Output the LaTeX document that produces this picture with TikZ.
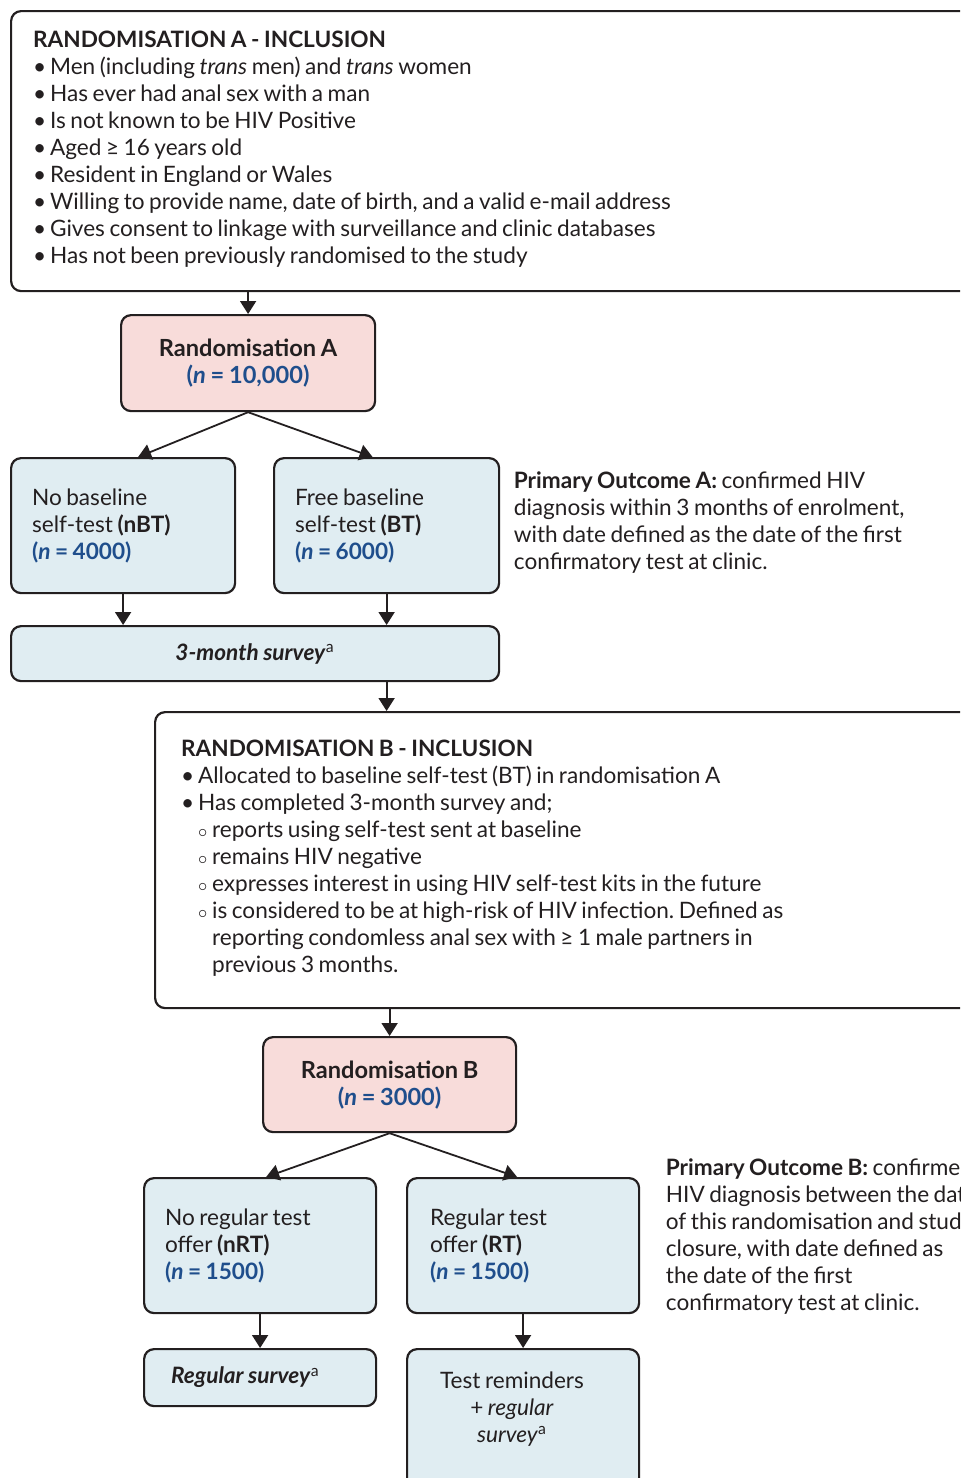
\documentclass[tikz,border=0pt]{standalone}
\usepackage{fontspec}
\setmainfont{Lato}
\usetikzlibrary{arrows.meta,positioning}
\definecolor{randpink}{HTML}{F8DCDA}
\definecolor{armblue}{HTML}{E0EDF2}
\definecolor{numblue}{HTML}{1F4E8C}
\definecolor{inkgrey}{HTML}{231F20}
\newcommand{\tightsp}{\spaceskip=0.2em plus 0.1em minus 0.05em\relax}
\tikzset{
  box/.style={draw=inkgrey,line width=1.1pt,rounded corners=5pt,anchor=north west,inner ysep=0pt},
  incl/.style={box,align=flush left,inner xsep=11pt},
  randbox/.style={box,fill=randpink,align=center,font=\fontsize{11.8}{13.5}\selectfont\tightsp\bfseries},
  armbox/.style={box,fill=armblue,align=flush left,inner xsep=10.5pt},
  note/.style={anchor=west,align=left,inner sep=0pt}
}
\newcommand{\nval}[1]{\textcolor{numblue}{\textbf{(\textit{n} = #1)}}}
\newcommand{\bul}{\makebox[8.5pt][l]{•}}
\newcommand{\subbul}{\hspace*{8.5pt}\makebox[7pt][l]{\raisebox{0.4pt}{\small$\circ$}}}
\newcommand{\surv}[1]{\textbf{\textit{#1}}\textsuperscript{a}}
\newcommand{\lift}{\rule[-3.5pt]{0pt}{1pt}}
\frenchspacing

\begin{document}
\begin{tikzpicture}[x=0.5pt,y=-0.5pt,>={Triangle[length=6.5pt,width=8pt]},line width=0.9pt,color=inkgrey,
  every node/.style={font=\fontsize{11.3}{13.5}\selectfont\tightsp,text=inkgrey}]
  \useasboundingbox (0,0) rectangle (960,1478);
  \clip (0,0) rectangle (960,1478);

  % randomisation A
  \node[incl,text width=460pt,minimum height=140pt] (inclA) at (10,10) {%
    \textbf{RANDOMISATION A - INCLUSION}\\
    \bul Men (including \textit{trans} men) and \textit{trans} women\\
    \bul Has ever had anal sex with a man\\
    \bul Is not known to be HIV Positive\\
    \bul Aged ≥ 16 years old\\
    \bul Resident in England or Wales\\
    \bul Willing to provide name, date of birth, and a valid e-mail address\\
    \bul Gives consent to linkage with surveillance and clinic databases\\
    \bul Has not been previously randomised to the study\lift};
  \node[randbox,minimum width=127pt,minimum height=48pt] (randA) at (120,314)
    {Randomisation A\\ \nval{10,000}};
  \node[armbox,text width=91pt,minimum height=67.5pt] (nbt) at (10,457)
    {No baseline\\ self-test \textbf{(nBT)}\\ \nval{4000}};
  \node[armbox,text width=91.5pt,minimum height=67.5pt] (bt) at (273,457)
    {Free baseline\\ self-test \textbf{(BT)}\\ \nval{6000}};
  \node[note] (outA) at (513,523)
    {\textbf{Primary Outcome A:} confirmed HIV\\ diagnosis within 3 months of enrolment,\\
     with date defined as the date of the first\\ confirmatory test at clinic.};
  \node[box,fill=armblue,minimum width=244pt,minimum height=27.5pt] (surv3) at (10,625)
    {\surv{3-month survey}};

  % randomisation B
  \node[incl,inner xsep=13pt,text width=384pt,minimum height=148pt] (inclB) at (154,711) {%
    \textbf{RANDOMISATION B - INCLUSION}\\
    \bul Allocated to baseline self-test (BT) in randomisation A\\
    \bul Has completed 3-month survey and;\\
    \subbul reports using self-test sent at baseline\\
    \subbul remains HIV negative\\
    \subbul expresses interest in using HIV self-test kits in the future\\
    \subbul is considered to be at high-risk of HIV infection. Defined as\\
    \hspace*{15.5pt}reporting condomless anal sex with ≥ 1 male partners in\\
    \hspace*{15.5pt}previous 3 months.\lift};
  \node[randbox,minimum width=126.5pt,minimum height=47.5pt] (randB) at (262,1036)
    {Randomisation B\\ \nval{3000}};
  \node[armbox,text width=95pt,minimum height=67.5pt] (nrt) at (143,1177)
    {No regular test\\ offer \textbf{(nRT)}\\ \nval{1500}};
  \node[armbox,inner xsep=11.5pt,text width=93pt,minimum height=67.5pt] (rt) at (406,1177)
    {Regular test\\ offer \textbf{(RT)}\\ \nval{1500}};
  \node[note] (outB) at (665,1237)
    {\textbf{Primary Outcome B:} confirmed\\ HIV diagnosis between the date\\
     of this randomisation and study\\ closure, with date defined as\\
     the date of the first\\ confirmatory test at clinic.};
  \node[armbox,inner xsep=13.5pt,text width=89pt,minimum height=28.5pt] (regsurv) at (143,1348)
    {\surv{Regular survey}};
  \node[box,fill=armblue,minimum width=116pt,minimum height=80pt] (testrem) at (406,1348) {};
  \node[align=center,inner sep=0pt] (testremtxt) at (512,1409)
    {Test reminders\\ + \textit{regular}\\ \surv{\mdseries survey}};

  % arrows
  \draw[->] (randA.north |- inclA.south) -- (randA.north);
  \draw[->] (randA.south) -- ([xshift=7.5pt]nbt.north);
  \draw[->] (randA.south) -- ([xshift=-7pt]bt.north);
  \draw[->] (nbt.south) -- (nbt.south |- surv3.north);
  \draw[->] (bt.south) -- (bt.south |- surv3.north);
  \draw[->] (bt.south |- surv3.south) -- (bt.south |- inclB.north);
  \draw[->] (randB.north |- inclB.south) -- (randB.north);
  \draw[->] (randB.south) -- ([xshift=3pt]nrt.north);
  \draw[->] (randB.south) -- ([xshift=-3pt]rt.north);
  \draw[->] (nrt.south) -- (regsurv.north -| nrt.south);
  \draw[->] (rt.south) -- (testrem.north);
\end{tikzpicture}
\end{document}
